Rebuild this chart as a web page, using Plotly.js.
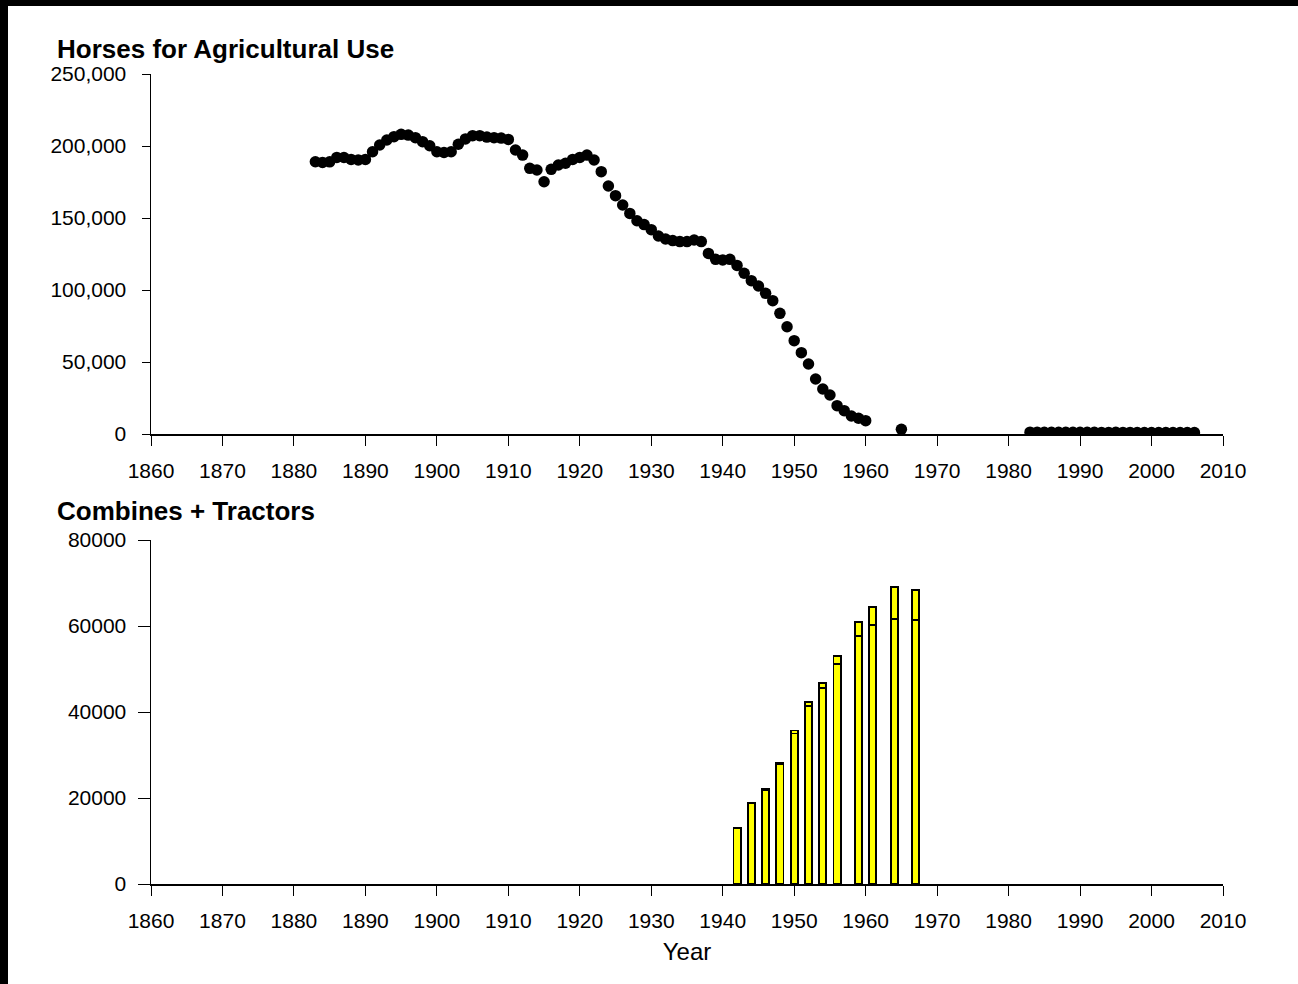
<!DOCTYPE html>
<html>
<head>
<meta charset="utf-8">
<script src="https://cdn.plot.ly/plotly-3.0.1.min.js"></script>
<style>
  html, body { margin: 0; padding: 0; background: #ffffff; }
  #chart { width: 1298px; height: 984px; }
</style>
</head>
<body>
<div id="chart"></div>
<script>
// Horses kept for agricultural use, by year
const horseYears = [
  1883, 1884, 1885, 1886, 1887, 1888, 1889, 1890, 1891, 1892,
  1893, 1894, 1895, 1896, 1897, 1898, 1899, 1900, 1901, 1902,
  1903, 1904, 1905, 1906, 1907, 1908, 1909, 1910, 1911, 1912,
  1913, 1914, 1915, 1916, 1917, 1918, 1919, 1920, 1921, 1922,
  1923, 1924, 1925, 1926, 1927, 1928, 1929, 1930, 1931, 1932,
  1933, 1934, 1935, 1936, 1937, 1938, 1939, 1940, 1941, 1942,
  1943, 1944, 1945, 1946, 1947, 1948, 1949, 1950, 1951, 1952,
  1953, 1954, 1955, 1956, 1957, 1958, 1959, 1960,
  1965,
  1983, 1984, 1985, 1986, 1987, 1988, 1989, 1990, 1991, 1992,
  1993, 1994, 1995, 1996, 1997, 1998, 1999, 2000, 2001, 2002,
  2003, 2004, 2005, 2006
];
const horseCounts = [
  189100, 188600, 189000, 192100, 192000, 190700, 190300, 190700, 196000, 200700,
  204200, 206500, 208100, 207600, 205800, 203000, 200200, 196000, 195500, 196000,
  201200, 204900, 207200, 207200, 206200, 205800, 205500, 204600, 197200, 193700,
  184500, 183300, 175200, 183800, 186800, 188000, 190700, 192100, 193700, 190300,
  182200, 172200, 165500, 159000, 153200, 148100, 145400, 141900, 137500, 135400,
  134300, 133600, 133600, 134700, 133600, 125400, 121300, 120800, 121300, 117100,
  111600, 106500, 102800, 97700, 92600, 83800, 74500, 64800, 56500, 48600,
  38200, 31250, 27100, 19700, 16200, 12500, 10900, 9250,
  3250,
  1300, 1300, 1250, 1250, 1200, 1200, 1250, 1200, 1150, 1150,
  1100, 1100, 1150, 1100, 1100, 1050, 1050, 1000, 1000, 1050,
  1000, 1000, 1050, 1000
];

// Machinery counts: tractors (lower segment) and combines (upper segment)
const machineYears = [1942, 1944, 1946, 1948, 1950, 1952, 1954, 1956, 1959, 1961, 1964, 1967];
const tractors = [13000, 18700, 21800, 27900, 35000, 41400, 45500, 51100, 57600, 60200, 61600, 61400];
const combines = [100, 200, 400, 300, 700, 900, 1300, 2000, 3400, 4300, 7400, 7000];

// Axis ticks
const yearTicks = [1860, 1870, 1880, 1890, 1900, 1910, 1920, 1930, 1940, 1950, 1960, 1970, 1980, 1990, 2000, 2010];
const horseTicks = [0, 50000, 100000, 150000, 200000, 250000];
const machineTicks = [0, 20000, 40000, 60000, 80000];

const W = 1298, H = 984;
const FONT = 'Liberation Sans, Arial, sans-serif';
const px = v => v / W;
const py = v => 1 - v / H;

const axisCommon = {
  showline: true,
  linecolor: '#000',
  linewidth: 1.5,
  showgrid: false,
  zeroline: false,
  ticks: 'outside',
  tickcolor: '#000',
  tickwidth: 1,
  tickfont: { family: FONT, size: 21, color: '#000' },
  fixedrange: true
};

const traces = [
  {
    type: 'scatter', mode: 'markers',
    x: horseYears, y: horseCounts,
    xaxis: 'x', yaxis: 'y',
    marker: { color: '#000', size: 11.5 },
    showlegend: false, hoverinfo: 'x+y'
  },
  {
    type: 'bar',
    x: machineYears, y: tractors, name: 'Tractors',
    xaxis: 'x2', yaxis: 'y2', width: 1,
    marker: { color: '#ffff00', line: { color: '#000', width: 1.8 } },
    showlegend: false
  },
  {
    type: 'bar',
    x: machineYears, y: combines, name: 'Combines',
    xaxis: 'x2', yaxis: 'y2', width: 1,
    marker: { color: '#ffff00', line: { color: '#000', width: 1.8 } },
    showlegend: false
  }
];

const layout = {
  width: W, height: H,
  margin: { l: 0, r: 0, t: 0, b: 0 },
  paper_bgcolor: '#fff', plot_bgcolor: '#fff',
  barmode: 'stack',
  showlegend: false,
  font: { family: FONT, color: '#000' },
  xaxis: Object.assign({}, axisCommon, {
    domain: [px(151), px(1223)], anchor: 'y',
    range: [1860, 2010], tickvals: yearTicks, ticklen: 10, ticklabelstandoff: 7
  }),
  yaxis: Object.assign({}, axisCommon, {
    domain: [py(434), py(74)], anchor: 'x',
    range: [0, 250000], tickvals: horseTicks, tickformat: ',d', ticklen: 8,
    ticklabelstandoff: 11
  }),
  xaxis2: Object.assign({}, axisCommon, {
    domain: [px(151), px(1223)], anchor: 'y2',
    range: [1860, 2010], tickvals: yearTicks, ticklen: 10, ticklabelstandoff: 7,
    title: { text: 'Year', font: { family: FONT, size: 24, color: '#000' }, standoff: 12 }
  }),
  yaxis2: Object.assign({}, axisCommon, {
    domain: [py(884), py(540)], anchor: 'x2',
    range: [0, 80000], tickvals: machineTicks, tickformat: 'd', ticklen: 12,
    ticklabelstandoff: 7
  }),
  annotations: [
    {
      text: '<b>Horses for Agricultural Use</b>',
      xref: 'paper', yref: 'paper', x: px(55), y: py(49),
      xanchor: 'left', yanchor: 'middle', showarrow: false,
      font: { family: FONT, size: 26, color: '#000' }
    },
    {
      text: '<b>Combines + Tractors</b>',
      xref: 'paper', yref: 'paper', x: px(55), y: py(511),
      xanchor: 'left', yanchor: 'middle', showarrow: false,
      font: { family: FONT, size: 26, color: '#000' }
    }
  ],
  shapes: [
    { type: 'rect', xref: 'paper', yref: 'paper', x0: 0, x1: px(8), y0: 0, y1: 1,
      fillcolor: '#000', line: { width: 0 }, layer: 'above' },
    { type: 'rect', xref: 'paper', yref: 'paper', x0: 0, x1: 1, y0: py(6), y1: 1,
      fillcolor: '#000', line: { width: 0 }, layer: 'above' }
  ]
};

Plotly.newPlot('chart', traces, layout, { displayModeBar: false, staticPlot: true });
</script>
</body>
</html>
